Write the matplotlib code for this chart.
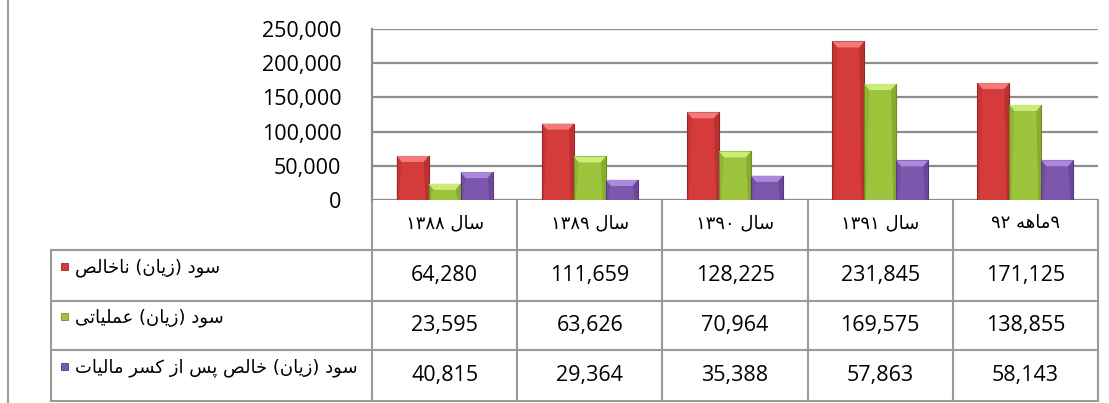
import re
import matplotlib
matplotlib.use('Agg')
import matplotlib.pyplot as plt
from matplotlib.patches import Polygon, Rectangle
from matplotlib.transforms import blended_transform_factory

# ---------------- data ----------------
categories = ['سال ۱۳۸۸', 'سال ۱۳۸۹', 'سال ۱۳۹۰', 'سال ۱۳۹۱', '۹ماهه ۹۲']
series_names = ['سود (زیان) ناخالص', 'سود (زیان) عملیاتی',
                'سود (زیان) خالص پس از کسر مالیات']
gross = [64280, 111659, 128225, 231845, 171125]
operating = [23595, 63626, 70964, 169575, 138855]
net = [40815, 29364, 35388, 57863, 58143]
y_ticks = [0, 50000, 100000, 150000, 200000, 250000]

series = [gross, operating, net]
face = ['#D53B3B', '#9CC43C', '#7D57AE']
edge = ['#9A2626', '#6E8F22', '#553A80']
bevel = ['#F27A78', '#CDEB78', '#AA8ADA']

# ---------------- minimal Persian shaping ----------------
FORMS = {  # isolated, final, initial, medial
    'ا': ('\uFE8D', '\uFE8E', None, None),
    'پ': ('\uFB56', '\uFB57', '\uFB58', '\uFB59'),
    'ت': ('\uFE95', '\uFE96', '\uFE97', '\uFE98'),
    'خ': ('\uFEA5', '\uFEA6', '\uFEA7', '\uFEA8'),
    'د': ('\uFEA9', '\uFEAA', None, None),
    'ر': ('\uFEAD', '\uFEAE', None, None),
    'ز': ('\uFEAF', '\uFEB0', None, None),
    'س': ('\uFEB1', '\uFEB2', '\uFEB3', '\uFEB4'),
    'ص': ('\uFEB9', '\uFEBA', '\uFEBB', '\uFEBC'),
    'ع': ('\uFEC9', '\uFECA', '\uFECB', '\uFECC'),
    'ک': ('\uFB8E', '\uFB8F', '\uFB90', '\uFB91'),
    'ل': ('\uFEDD', '\uFEDE', '\uFEDF', '\uFEE0'),
    'م': ('\uFEE1', '\uFEE2', '\uFEE3', '\uFEE4'),
    'ن': ('\uFEE5', '\uFEE6', '\uFEE7', '\uFEE8'),
    'ه': ('\uFEE9', '\uFEEA', '\uFEEB', '\uFEEC'),
    'و': ('\uFEED', '\uFEEE', None, None),
    'ی': ('\uFBFC', '\uFBFD', '\uFBFE', '\uFBFF'),
}


def shape(s):
    out = []
    for i, c in enumerate(s):
        if c not in FORMS:
            out.append(c)
            continue
        prev = s[i - 1] if i > 0 else None
        nxt = s[i + 1] if i + 1 < len(s) else None
        jp = prev in FORMS and FORMS[prev][2] is not None
        jn = nxt in FORMS and FORMS[c][2] is not None
        f = FORMS[c]
        out.append(f[3] if (jp and jn) else f[1] if jp else f[2] if jn else f[0])
    return ''.join(out)


def visual(s):
    s = shape(s)
    runs = re.findall(r'[0-9\u06F0-\u06F9]+|[^0-9\u06F0-\u06F9]+', s)
    out = []
    for r in reversed(runs):
        if re.match(r'[0-9\u06F0-\u06F9]', r):
            out.append(r)
        else:
            out.append(''.join({'(': ')', ')': '('}.get(ch, ch) for ch in reversed(r)))
    return ''.join(out)


# ---------------- figure ----------------
W, H = 1109, 403
fig = plt.figure(figsize=(W / 100, H / 100), dpi=100)
fig.patch.set_facecolor('white')

L, R, T, B = 372, 1098, 29, 200
ax = fig.add_axes([L / W, 1 - B / H, (R - L) / W, (B - T) / H])
ov = fig.add_axes([0, 0, 1, 1], zorder=-1)
ov.set_xlim(0, W)
ov.set_ylim(H, 0)
ov.axis('off')

grid_c = '#8C8C8C'
num_font = 'Open Sans'
fa_font = ['DejaVu Sans']

n = len(categories)
ax.set_xlim(-0.5, n - 0.5)
ax.set_ylim(0, 250000)
ax.set_yticks(y_ticks)
ax.set_yticklabels([f'{v:,}' for v in y_ticks], fontfamily=num_font, fontsize=15.5)
ax.tick_params(axis='y', length=0, pad=22)
ax.set_xticks([])
for s in ['top', 'right', 'bottom']:
    ax.spines[s].set_visible(False)
ax.spines['left'].set_color(grid_c)
ax.spines['left'].set_linewidth(1.6)
ax.set_axisbelow(True)
ax.yaxis.grid(True, color=grid_c, linewidth=1.6)
ax.patch.set_alpha(0)

bw = 0.22
offs = [-bw, 0, bw]
dxp = n / (R - L)          # data units per px (x)
dyp = 250000 / (B - T)     # data units per px (y)
for k, vals in enumerate(series):
    bars = ax.bar([i + offs[k] for i in range(n)], vals, width=bw,
                  color=face[k], edgecolor=edge[k], linewidth=0.8, zorder=3)
    for b in bars:
        x0, w, h = b.get_x(), b.get_width(), b.get_height()
        ix, iy = 5 * dxp, 6 * dyp
        ax.add_patch(Polygon([(x0, h), (x0 + w, h), (x0 + w - ix, h - iy), (x0 + ix, h - iy)],
                             closed=True, facecolor=bevel[k], edgecolor='none', zorder=4))
        ax.add_patch(Polygon([(x0 + w, h), (x0 + w, 0), (x0 + w - 3 * dxp, 0), (x0 + w - ix, h - iy)],
                             closed=True, facecolor=edge[k], alpha=0.45, edgecolor='none', zorder=4))
        ax.add_patch(Polygon([(x0, h), (x0, 0), (x0 + 2 * dxp, 0), (x0 + ix, h - iy)],
                             closed=True, facecolor=edge[k], alpha=0.25, edgecolor='none', zorder=4))

# ---------------- data table ----------------
lc = '#9A9A9A'
lw = 1.5
row_lines = [250, 301, 350, 401]
tr = blended_transform_factory(ax.transData, ov.transData)
# vertical column separators (header + data rows)
for i in range(n + 1):
    ov.plot([i - 0.5, i - 0.5], [B, row_lines[-1]], color=lc, lw=lw, transform=tr, clip_on=False)
# horizontal lines
for y in row_lines:
    ov.plot([51, R], [y, y], color=lc, lw=lw)
ov.plot([51, 51], [row_lines[0], row_lines[-1]], color=lc, lw=lw)
# outer frame line on the left
ov.plot([8, 8], [0, H], color='#A0A0A0', lw=1.5)

# header labels
for i, c in enumerate(categories):
    ov.text(i, 223, visual(c), transform=tr, ha='center', va='center',
            fontfamily=fa_font, fontsize=13)

# rows
for k, (name, vals) in enumerate(zip(series_names, series)):
    top, bot = row_lines[k], row_lines[k + 1]
    yc = (top + bot) / 2
    ov.add_patch(Rectangle((61, yc - 13), 7, 7, facecolor=face[k], edgecolor=edge[k], lw=0.6))
    ov.text(75, yc - 8, visual(name), ha='left', va='center',
            fontfamily=fa_font, fontsize=13)
    for i, v in enumerate(vals):
        ov.text(i, yc, f'{v:,}', transform=tr, ha='center', va='center',
                fontfamily=num_font, fontsize=15.5)

fig.savefig('out.png', dpi=100, facecolor='white')
